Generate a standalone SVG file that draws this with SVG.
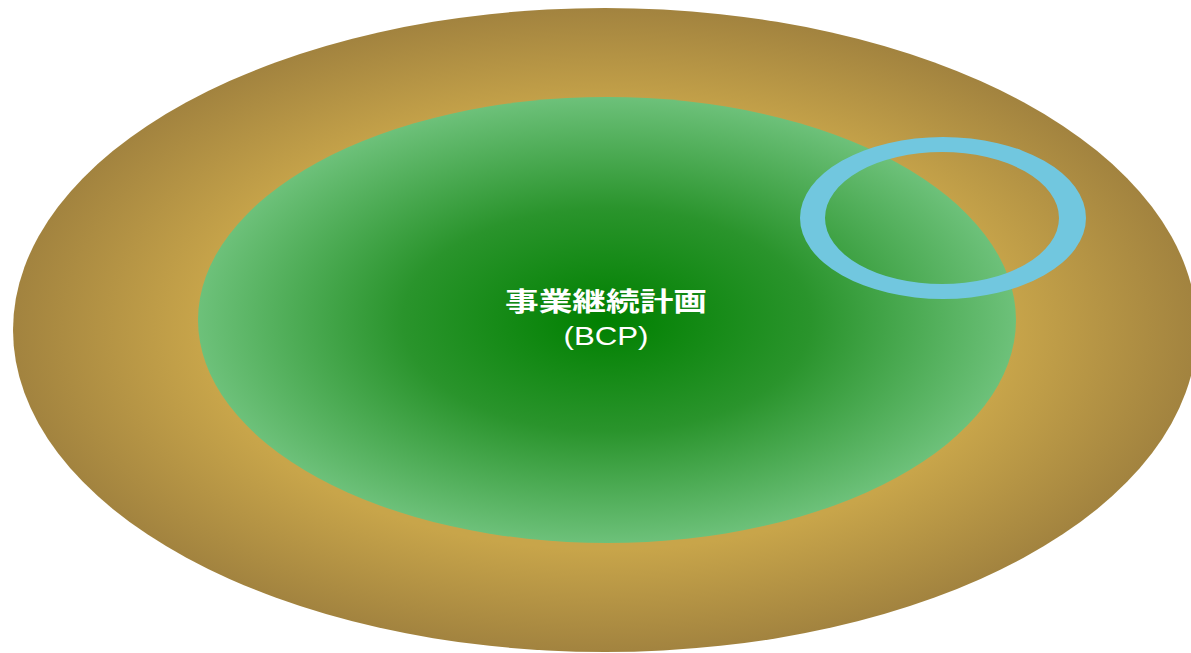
<svg xmlns="http://www.w3.org/2000/svg" width="1191" height="653" viewBox="0 0 1191 653">
<defs>
<radialGradient id="gOuter" cx="0.5" cy="0.5" r="0.5">
<stop offset="0" stop-color="#c8a84c"/>
<stop offset="0.68" stop-color="#c8a54a"/>
<stop offset="1" stop-color="#a2833f"/>
</radialGradient>
<radialGradient id="gInner" cx="0.5" cy="0.5" r="0.5">
<stop offset="0" stop-color="#008000"/>
<stop offset="0.5" stop-color="#2a942c"/>
<stop offset="1" stop-color="#6dc17a"/>
</radialGradient>
<style>
.lbl{fill:#ffffff;font-family:"Liberation Sans","Noto Sans CJK JP",sans-serif;text-anchor:middle}
</style>
</defs>
<g id="outer">
<ellipse cx="605" cy="330" rx="592" ry="322" fill="url(#gOuter)"/>
</g>
<g id="bcp">
<ellipse cx="607" cy="320" rx="409" ry="223" fill="url(#gInner)"/>
<text class="lbl" x="606" y="311" font-size="26" font-weight="bold" textLength="202" lengthAdjust="spacingAndGlyphs">事業継続計画</text>
<text class="lbl" x="606" y="345" font-size="25" textLength="85" lengthAdjust="spacingAndGlyphs">(BCP)</text>
</g>
<g id="ring">
<path fill="#71c7df" fill-rule="evenodd" d="M800,218 a143,81 0 1,0 286,0 a143,81 0 1,0 -286,0 Z M825,218 a117,66 0 1,0 234,0 a117,66 0 1,0 -234,0 Z"/>
</g>
<g id="connectors"/>
</svg>
